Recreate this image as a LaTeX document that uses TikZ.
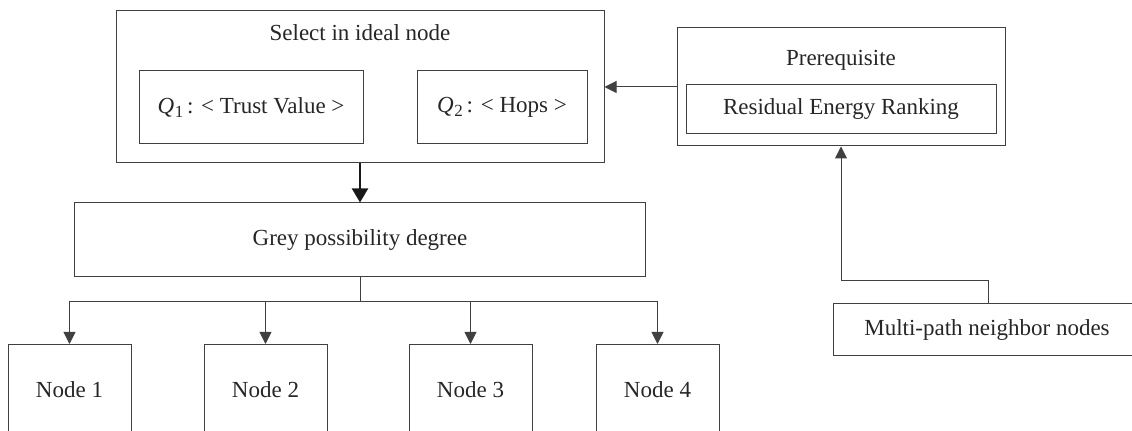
\documentclass[tikz,border=0pt]{standalone}
\usepackage{fontspec}
\setmainfont{Liberation Serif}
\usetikzlibrary{arrows.meta}
\begin{document}
\begin{tikzpicture}[x=0.5pt,y=-0.5pt,
  every node/.style={font=\fontsize{11.5}{13}\selectfont, text=black!85},
  box/.style={draw=black!75, line width=0.5pt, rectangle, inner sep=0pt},
  lbl/.style={inner sep=0pt},
  conn/.style={draw=black!75, line width=0.5pt, -{Triangle[length=6pt,width=6pt]}},
  line/.style={draw=black!75, line width=0.5pt},
  thickconn/.style={draw=black!90, line width=1pt, -{Triangle[length=7pt,width=8pt]}}]
\useasboundingbox (0,0) rectangle (1132,431);
\clip (0,0) rectangle (1132,431);
% top-left group
\node[box, minimum width=244pt, minimum height=76pt] (outer) at (360,87) {};
\node[lbl] (title) at (360,33) {Select in ideal node};
\node[box, minimum width=112pt, minimum height=36.5pt] (q1) at (251,107.5)
  {\textit{Q}\kern0.3pt\raisebox{-0.35ex}{\fontsize{8.5}{9}\selectfont 1}\,: < Trust Value >};
\node[box, minimum width=85pt, minimum height=36.5pt] (q2) at (502,107.5)
  {\textit{Q}\kern0.3pt\raisebox{-0.35ex}{\fontsize{8.5}{9}\selectfont 2}\,: < Hops >};
% prerequisite group
\node[box, minimum width=164pt, minimum height=59pt] (pre) at (841,87) {};
\node[lbl] (pretitle) at (841,60) {Prerequisite};
\node[box, minimum width=155pt, minimum height=24.5pt] (res) at (841,109.5) {Residual Energy Ranking};
% grey
\node[box, minimum width=285.5pt, minimum height=37pt] (grey) at (360,240) {Grey possibility degree};
% nodes
\node[box, minimum width=61.5pt, minimum height=70pt, anchor=north] (n1) at (69.5,344) {};
\node[box, minimum width=61.5pt, minimum height=70pt, anchor=north] (n2) at (265.5,344) {};
\node[box, minimum width=61.5pt, minimum height=70pt, anchor=north] (n3) at (470.5,344) {};
\node[box, minimum width=61.5pt, minimum height=70pt, anchor=north] (n4) at (657.5,344) {};
\node[lbl] (t1) at (69.5,390) {Node 1};
\node[lbl] (t2) at (265.5,390) {Node 2};
\node[lbl] (t3) at (470.5,390) {Node 3};
\node[lbl] (t4) at (657.5,390) {Node 4};
% multi-path
\node[box, minimum width=154pt, minimum height=26pt] (multi) at (987,330) {Multi-path neighbor nodes};
% connectors
\draw[conn] (pre.west |- 0,87) -- (outer.east |- 0,87);
\draw[thickconn] (outer.south) -- (grey.north);
\coordinate (br) at (360,302);
\draw[line] (grey.south) -- (br);
\draw[conn] (br) -| (n1.north);
\draw[conn] (br) -| (n2.north);
\draw[conn] (br) -| (n3.north);
\draw[conn] (br) -| (n4.north);
\coordinate (mt) at (988,304);
\coordinate (mk) at (988,281);
\draw[conn] (mt) -- (mk) -| (pre.south);
\end{tikzpicture}
\end{document}
